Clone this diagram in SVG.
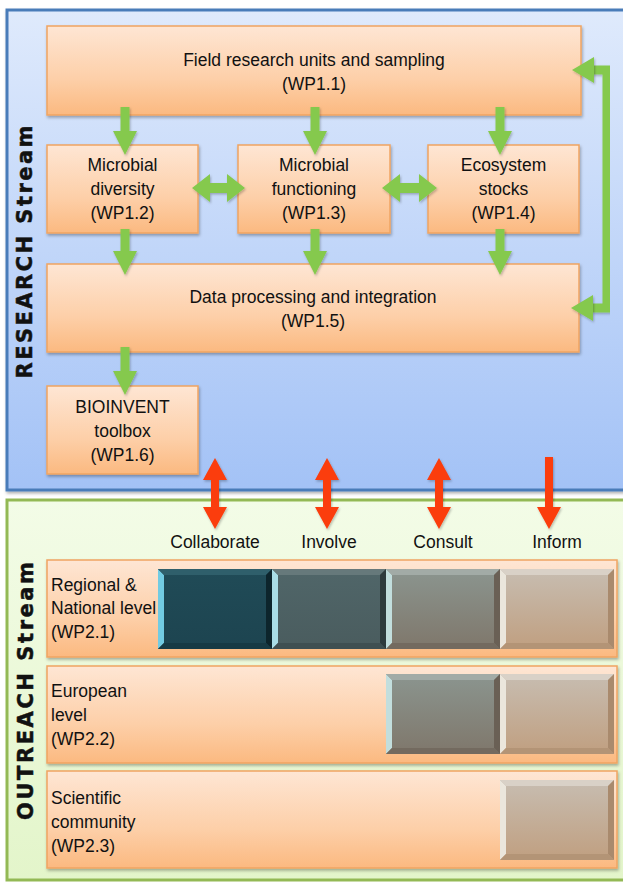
<svg xmlns="http://www.w3.org/2000/svg" width="623" height="882" viewBox="0 0 623 882">
<defs>
  <linearGradient id="gBlue" x1="0" y1="0" x2="0" y2="1">
    <stop offset="0" stop-color="#dfeafc"/>
    <stop offset="1" stop-color="#a3c2f6"/>
  </linearGradient>
  <linearGradient id="gGreen" x1="0" y1="0" x2="0" y2="1">
    <stop offset="0" stop-color="#f3fce7"/>
    <stop offset="1" stop-color="#e3f5ca"/>
  </linearGradient>
  <linearGradient id="gOrange" x1="0" y1="0" x2="0" y2="1">
    <stop offset="0" stop-color="#fee6d4"/>
    <stop offset="0.6" stop-color="#fdcfa8"/>
    <stop offset="1" stop-color="#fbb980"/>
  </linearGradient>
  <linearGradient id="gC1" x1="0" y1="0" x2="0" y2="1">
    <stop offset="0" stop-color="#204b57"/>
    <stop offset="1" stop-color="#1d4450"/>
  </linearGradient>
  <linearGradient id="gC2" x1="0" y1="0" x2="0" y2="1">
    <stop offset="0" stop-color="#506669"/>
    <stop offset="1" stop-color="#4a5c5e"/>
  </linearGradient>
  <linearGradient id="gC3" x1="0" y1="0" x2="0" y2="1">
    <stop offset="0" stop-color="#8b958f"/>
    <stop offset="1" stop-color="#7f776b"/>
  </linearGradient>
  <linearGradient id="gC4" x1="0" y1="0" x2="0" y2="1">
    <stop offset="0" stop-color="#c7bdb1"/>
    <stop offset="1" stop-color="#c09f80"/>
  </linearGradient>
  <filter id="shadow" x="-5%" y="-5%" width="110%" height="120%">
    <feDropShadow dx="1" dy="2" stdDeviation="1.5" flood-color="#000" flood-opacity="0.3"/>
  </filter>
  <filter id="ashadow" x="-20%" y="-20%" width="140%" height="140%">
    <feDropShadow dx="1" dy="1.5" stdDeviation="1" flood-color="#000" flood-opacity="0.25"/>
  </filter>
  <style>
    .box { fill: url(#gOrange); stroke: #f0a462; stroke-width: 1.5; filter: url(#shadow); }
    .txt { font-family: "Liberation Sans", Arial, sans-serif; font-size: 17.5px; fill: #111; }
    .c { text-anchor: middle; }
    .side { font-family: "DejaVu Sans", "Liberation Sans", sans-serif; font-size: 21px; font-weight: bold; fill: #111; stroke: #111; stroke-width: 0.5; text-anchor: middle; }
    .garrow { fill: #85c94e; filter: url(#ashadow); }
    .gline { fill: none; stroke: #85c94e; stroke-width: 9; stroke-linejoin: miter; filter: url(#ashadow); }
    .rarrow { fill: #fb3d0c; filter: url(#ashadow); }
  </style>
</defs>

<!-- Panels -->
<g id="research-panel">
  <rect x="7" y="10" width="625" height="480" fill="url(#gBlue)" stroke="#4a7cb9" stroke-width="3" filter="url(#shadow)"/>
  <text class="side" transform="translate(32,252) rotate(-90)" textLength="253" lengthAdjust="spacing">RESEARCH Stream</text>
</g>
<g id="outreach-panel">
  <rect x="7" y="500" width="625" height="380" fill="url(#gGreen)" stroke="#93b955" stroke-width="3"/>
  <text class="side" transform="translate(33,691) rotate(-90)" textLength="258" lengthAdjust="spacing">OUTREACH Stream</text>
</g>

<!-- Research nodes -->
<g id="wp11">
  <rect class="box" x="47" y="26" width="534" height="89"/>
  <text class="txt c" x="314" y="66">Field research units and sampling</text>
  <text class="txt c" x="314" y="90">(WP1.1)</text>
</g>
<g id="wp12">
  <rect class="box" x="47" y="145" width="151" height="88"/>
  <text class="txt c" x="122.5" y="171">Microbial</text>
  <text class="txt c" x="122.5" y="195">diversity</text>
  <text class="txt c" x="122.5" y="219">(WP1.2)</text>
</g>
<g id="wp13">
  <rect class="box" x="238" y="145" width="152" height="88"/>
  <text class="txt c" x="314" y="171">Microbial</text>
  <text class="txt c" x="314" y="195">functioning</text>
  <text class="txt c" x="314" y="219">(WP1.3)</text>
</g>
<g id="wp14">
  <rect class="box" x="428" y="145" width="151" height="88"/>
  <text class="txt c" x="503.5" y="171">Ecosystem</text>
  <text class="txt c" x="503.5" y="195">stocks</text>
  <text class="txt c" x="503.5" y="219">(WP1.4)</text>
</g>
<g id="wp15">
  <rect class="box" x="47" y="264" width="532" height="88"/>
  <text class="txt c" x="313" y="303">Data processing and integration</text>
  <text class="txt c" x="313" y="327">(WP1.5)</text>
</g>
<g id="wp16">
  <rect class="box" x="47" y="386" width="151" height="88"/>
  <text class="txt c" x="122.5" y="413">BIOINVENT</text>
  <text class="txt c" x="122.5" y="437">toolbox</text>
  <text class="txt c" x="122.5" y="461">(WP1.6)</text>
</g>

<!-- Outreach labels -->
<g id="levels">
  <text class="txt c" x="215" y="548">Collaborate</text>
  <text class="txt c" x="329" y="548">Involve</text>
  <text class="txt c" x="443" y="548">Consult</text>
  <text class="txt c" x="557" y="548">Inform</text>
</g>

<!-- Outreach rows -->
<g id="wp21">
  <rect class="box" x="47" y="560" width="570" height="97"/>
  <text class="txt" x="51" y="591">Regional &amp;</text>
  <text class="txt" x="51" y="614">National level</text>
  <text class="txt" x="51" y="638">(WP2.1)</text>
  <!-- Collaborate block -->
  <rect x="158" y="569" width="114" height="80" fill="url(#gC1)"/>
  <polygon points="158,569 164,575 164,643 158,649" fill="#72cbe2"/>
  <polygon points="158,569 272,569 266,575 164,575" fill="#2f5f6b"/>
  <polygon points="272,569 272,649 266,643 266,575" fill="#0d252c"/>
  <polygon points="158,649 272,649 266,643 164,643" fill="#173a44"/>
  <!-- Involve block -->
  <rect x="272" y="569" width="114" height="80" fill="url(#gC2)"/>
  <polygon points="272,569 278,575 278,643 272,649" fill="#a9dde6"/>
  <polygon points="272,569 386,569 380,575 278,575" fill="#66797b"/>
  <polygon points="386,569 386,649 380,643 380,575" fill="#2e3b3d"/>
  <polygon points="272,649 386,649 380,643 278,643" fill="#3f4f51"/>
  <!-- Consult block -->
  <rect x="386" y="569" width="114" height="80" fill="url(#gC3)"/>
  <polygon points="386,569 392,575 392,643 386,649" fill="#c2dedd"/>
  <polygon points="386,569 500,569 494,575 392,575" fill="#a2aba6"/>
  <polygon points="500,569 500,649 494,643 494,575" fill="#6a6055"/>
  <polygon points="386,649 500,649 494,643 392,643" fill="#736a5f"/>
  <!-- Inform block -->
  <rect x="500" y="569" width="114" height="80" fill="url(#gC4)"/>
  <polygon points="500,569 506,575 506,643 500,649" fill="#ebe6dc"/>
  <polygon points="500,569 614,569 608,575 506,575" fill="#d9d1c7"/>
  <polygon points="614,569 614,649 608,643 608,575" fill="#a98a6d"/>
  <polygon points="500,649 614,649 608,643 506,643" fill="#b39476"/>
</g>
<g id="wp22">
  <rect class="box" x="47" y="666" width="570" height="97"/>
  <text class="txt" x="51" y="697">European</text>
  <text class="txt" x="51" y="721">level</text>
  <text class="txt" x="51" y="745">(WP2.2)</text>
  <rect x="386" y="674" width="114" height="80" fill="url(#gC3)"/>
  <polygon points="386,674 392,680 392,748 386,754" fill="#c2dedd"/>
  <polygon points="386,674 500,674 494,680 392,680" fill="#a2aba6"/>
  <polygon points="500,674 500,754 494,748 494,680" fill="#6a6055"/>
  <polygon points="386,754 500,754 494,748 392,748" fill="#736a5f"/>
  <rect x="500" y="674" width="114" height="80" fill="url(#gC4)"/>
  <polygon points="500,674 506,680 506,748 500,754" fill="#ebe6dc"/>
  <polygon points="500,674 614,674 608,680 506,680" fill="#d9d1c7"/>
  <polygon points="614,674 614,754 608,748 608,680" fill="#a98a6d"/>
  <polygon points="500,754 614,754 608,748 506,748" fill="#b39476"/>
</g>
<g id="wp23">
  <rect class="box" x="47" y="771" width="570" height="97"/>
  <text class="txt" x="51" y="804">Scientific</text>
  <text class="txt" x="51" y="828">community</text>
  <text class="txt" x="51" y="852">(WP2.3)</text>
  <rect x="500" y="780" width="114" height="80" fill="url(#gC4)"/>
  <polygon points="500,780 506,786 506,854 500,860" fill="#ebe6dc"/>
  <polygon points="500,780 614,780 608,786 506,786" fill="#d9d1c7"/>
  <polygon points="614,780 614,860 608,854 608,786" fill="#a98a6d"/>
  <polygon points="500,860 614,860 608,854 506,854" fill="#b39476"/>
</g>

<!-- Connectors -->
<g id="connectors">
  <!-- WP1.1 to WP1.2/1.3/1.4 -->
  <polygon class="garrow" points="120.5,107 129.5,107 129.5,131 137,131 125,155 113,131 120.5,131"/>
  <polygon class="garrow" points="310.5,107 319.5,107 319.5,131 327,131 315,155 303,131 310.5,131"/>
  <polygon class="garrow" points="495.5,107 504.5,107 504.5,131 512,131 500,155 488,131 495.5,131"/>
  <!-- WP1.2/1.3/1.4 to WP1.5 -->
  <polygon class="garrow" points="120.5,229 129.5,229 129.5,251 137,251 125,275 113,251 120.5,251"/>
  <polygon class="garrow" points="310.5,229 319.5,229 319.5,251 327,251 315,275 303,251 310.5,251"/>
  <polygon class="garrow" points="495.5,229 504.5,229 504.5,251 512,251 500,275 488,251 495.5,251"/>
  <!-- WP1.5 to WP1.6 -->
  <polygon class="garrow" points="120.5,347 129.5,347 129.5,371 137,371 125,395 113,371 120.5,371"/>
  <!-- double arrows -->
  <polygon class="garrow" points="192,188 210,174 210,183 227,183 227,174 245,188 227,202 227,193 210,193 210,202"/>
  <polygon class="garrow" points="382,188 400,174 400,183 419,183 419,174 437,188 419,202 419,193 400,193 400,202"/>
  <!-- feedback loop WP1.1 <-> WP1.5 -->
  <polyline class="gline" points="592,70 607,70 607,308 592,308"/>
  <polygon class="garrow" points="572,70 594,57 594,83"/>
  <polygon class="garrow" points="571,308 593,295 593,321"/>
  <!-- red outreach arrows -->
  <polygon class="rarrow" points="215,458 227,480 219,480 219,507 227,507 215,529 203,507 211,507 211,480 203,480"/>
  <polygon class="rarrow" points="327,458 339,480 331,480 331,507 339,507 327,529 315,507 323,507 323,480 315,480"/>
  <polygon class="rarrow" points="439,458 451,480 443,480 443,507 451,507 439,529 427,507 435,507 435,480 427,480"/>
  <polygon class="rarrow" points="545,457 553,457 553,507 561,507 549,529 537,507 545,507"/>
</g>
</svg>
